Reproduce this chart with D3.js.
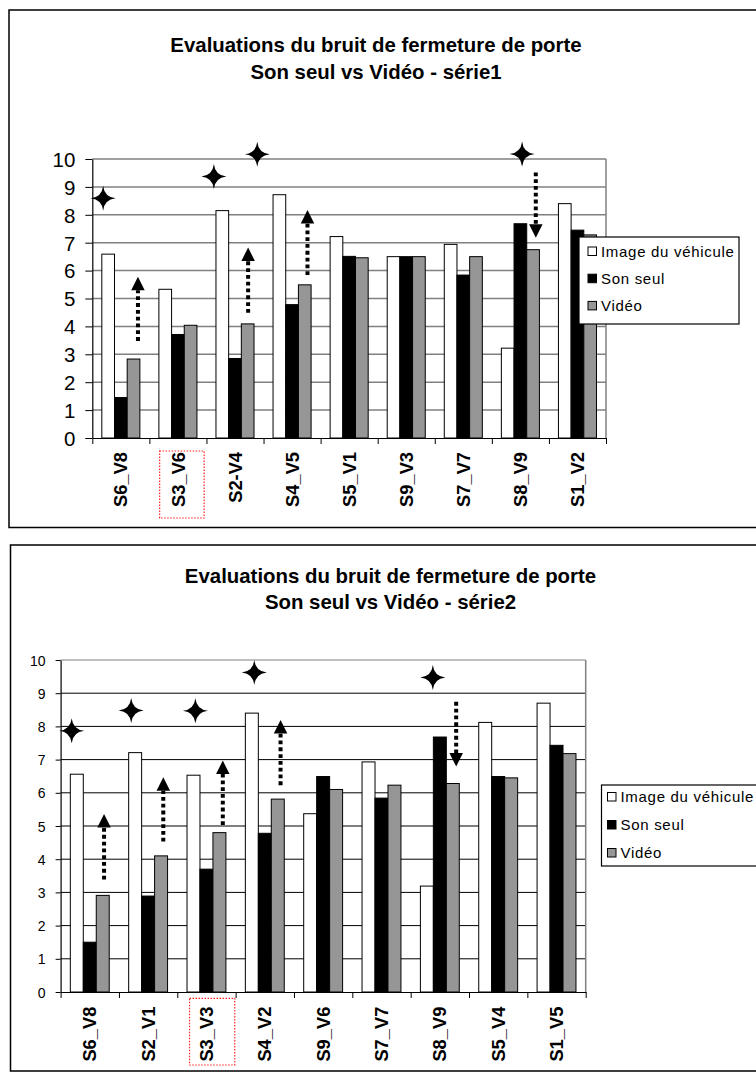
<!DOCTYPE html>
<html><head><meta charset="utf-8">
<script src="https://cdn.jsdelivr.net/npm/d3@7"></script>
<style>
html,body{margin:0;padding:0;background:#fff;}
svg{display:block;font-family:"Liberation Sans",Arial,Helvetica,sans-serif;}
</style></head>
<body>
<svg id="c" width="756" height="1075"></svg>
<script>
// ---------- DATA ----------
const seriesNames = ["Image du véhicule", "Son seul", "Vidéo"];
const yTicks = [0,1,2,3,4,5,6,7,8,9,10];

const titles1 = ["Evaluations du bruit de fermeture de porte", "Son seul vs Vidéo - série1"];
const categories1 = ["S6_V8","S3_V6","S2-V4","S4_V5","S5_V1","S9_V3","S7_V7","S8_V9","S1_V2"];
const image1 = [6.59,5.33,8.15,8.72,7.22,6.50,6.94,3.22,8.40];
const son1   = [1.45,3.71,2.85,4.78,6.51,6.50,5.84,7.68,7.45];
const video1 = [2.83,4.04,4.09,5.49,6.46,6.50,6.50,6.75,7.28];
const starCat1 = [0.19,2.13,2.89,7.53];
const starVal1 = [8.59,9.37,10.17,10.18];
const arrowCat1 = [0.80,2.73,3.77,7.77];
const arrowFrom1 = [3.48,4.49,5.84,9.52];
const arrowTo1 = [5.78,6.83,8.17,7.18];
const highlight1 = 1;

const titles2 = ["Evaluations du bruit de fermeture de porte", "Son seul vs Vidéo - série2"];
const categories2 = ["S6_V8","S2_V1","S3_V3","S4_V2","S9_V6","S7_V7","S8_V9","S5_V4","S1_V5"];
const image2 = [6.56,7.21,6.53,8.40,5.37,6.93,3.19,8.12,8.70];
const son2   = [1.50,2.89,3.70,4.78,6.49,5.84,7.68,6.49,7.43];
const video2 = [2.91,4.10,4.80,5.81,6.10,6.23,6.28,6.45,7.18];
const starCat2 = [0.19,1.21,2.31,3.32,6.38];
const starVal2 = [7.87,8.48,8.47,9.62,9.47];
const arrowCat2 = [0.745,1.76,2.78,3.77,6.78];
const arrowFrom2 = [3.39,4.53,5.03,6.23,8.74];
const arrowTo2 = [5.36,6.47,6.97,8.19,6.79];
const highlight2 = 2;

// ---------- STYLE / LAYOUT ----------
const fills = ["#ffffff", "#000000", "#969696"];
const svg = d3.select("#c");

function starPath(R, c) {
  const p = d3.path();
  p.moveTo(0, -R);
  p.quadraticCurveTo(c, -c, R, 0);
  p.quadraticCurveTo(c, c, 0, R);
  p.quadraticCurveTo(-c, c, -R, 0);
  p.quadraticCurveTo(-c, -c, 0, -R);
  p.closePath();
  return p.toString();
}

function drawChart(cfg) {
  const g = svg.append("g");
  g.append("rect").attr("x", cfg.border[0]).attr("y", cfg.border[1])
    .attr("width", cfg.border[2]).attr("height", cfg.border[3])
    .attr("fill", "none").attr("stroke", "#000").attr("stroke-width", 1.5);

  cfg.titles.forEach((t, i) => {
    g.append("text").attr("x", cfg.titleX).attr("y", cfg.titleY[i])
      .attr("text-anchor", "middle").attr("font-weight", "bold")
      .attr("font-size", cfg.titleSize).text(t);
  });

  const P = cfg.plot;
  const y = d3.scaleLinear().domain([0, 10]).range([P.b, P.t]);
  const x = d3.scaleBand().domain(cfg.categories).range([P.l, P.r]).paddingInner(0).paddingOuter(0);
  const xs = d3.scaleBand().domain(seriesNames).range([0, x.bandwidth()]).paddingInner(0).paddingOuter(0.75);
  const xi = d3.scaleLinear().domain([0, cfg.categories.length]).range([P.l, P.r]);

  g.append("g").selectAll("line").data(yTicks.filter(v => v > 0)).join("line")
    .attr("x1", P.l).attr("x2", P.r)
    .attr("y1", d => y(d)).attr("y2", d => y(d))
    .attr("stroke", d => d === 10 ? "#808080" : cfg.gridColor)
    .attr("stroke-width", cfg.gridWidth);
  g.append("line").attr("x1", P.r).attr("x2", P.r).attr("y1", y(10)).attr("y2", y(0))
    .attr("stroke", "#808080").attr("stroke-width", 1.5);

  const rows = cfg.categories.map((c, i) => ({ c, v: [cfg.image[i], cfg.son[i], cfg.video[i]] }));
  const grp = g.append("g").selectAll("g").data(rows).join("g")
    .attr("transform", d => `translate(${x(d.c)},0)`);
  grp.selectAll("rect").data(d => d.v.map((v, k) => ({ s: seriesNames[k], v, k }))).join("rect")
    .attr("x", d => xs(d.s)).attr("width", xs.bandwidth())
    .attr("y", d => y(d.v)).attr("height", d => y(0) - y(d.v))
    .attr("fill", d => fills[d.k]).attr("stroke", "#000").attr("stroke-width", 1);

  const ya = g.append("g").attr("transform", `translate(${P.l},0)`)
    .call(d3.axisLeft(y).tickValues(yTicks).tickSize(cfg.yTickLen).tickPadding(cfg.yPad).tickSizeOuter(0));
  ya.select(".domain").attr("stroke", "#000").attr("stroke-width", 1.2);
  ya.selectAll(".tick line").attr("stroke", "#000");
  ya.selectAll(".tick text").attr("font-size", cfg.yFont).attr("fill", "#000")
    .attr("font-family", '"Liberation Sans",Arial,sans-serif').attr("dy", "0.36em");

  const xa = g.append("g").attr("transform", `translate(0,${P.b})`)
    .call(d3.axisBottom(xi).tickValues(d3.range(cfg.categories.length + 1)).tickFormat("").tickSize(6).tickSizeOuter(0));
  xa.select(".domain").attr("stroke", "#000").attr("stroke-width", 1.2);
  xa.selectAll(".tick line").attr("stroke", "#000");

  g.append("g").selectAll("text").data(cfg.categories).join("text")
    .attr("transform", d => `translate(${x(d) + x.bandwidth() / 2},${P.b + cfg.xLabelOff}) rotate(-90)`)
    .attr("text-anchor", "end").attr("dy", "0.36em")
    .attr("font-weight", "bold").attr("font-size", cfg.xFont).text(d => d);

  const hc = cfg.highlight;
  g.append("rect")
    .attr("x", xi(hc + cfg.hlFrac[0])).attr("width", xi(hc + cfg.hlFrac[1]) - xi(hc + cfg.hlFrac[0]))
    .attr("y", P.b + cfg.hlY[0]).attr("height", cfg.hlY[1] - cfg.hlY[0])
    .attr("fill", "none").attr("stroke", "#ff2020").attr("stroke-width", 1.2)
    .attr("stroke-dasharray", "1.5,1.5");

  g.append("g").selectAll("path").data(cfg.starCat.map((c, i) => ({ c, v: cfg.starVal[i] }))).join("path")
    .attr("d", starPath(12.5, 1.2))
    .attr("transform", d => `translate(${xi(d.c)},${y(d.v)})`)
    .attr("fill", "#000");

  const arr = cfg.arrowCat.map((c, i) => ({ c, f: cfg.arrowFrom[i], t: cfg.arrowTo[i] }));
  const ah = 13.5, aw = 13.5;
  const ag = g.append("g").selectAll("g").data(arr).join("g");
  ag.append("line")
    .attr("x1", d => xi(d.c)).attr("x2", d => xi(d.c))
    .attr("y1", d => y(d.f))
    .attr("y2", d => y(d.t) + (d.t > d.f ? ah : -ah))
    .attr("stroke", "#000").attr("stroke-width", 4).attr("stroke-dasharray", "3.8,3");
  ag.append("path").attr("d", d => {
    const cx = xi(d.c), ty = y(d.t), dir = d.t > d.f ? 1 : -1;
    return `M${cx},${ty}L${cx - aw / 2},${ty + dir * ah}L${cx + aw / 2},${ty + dir * ah}Z`;
  }).attr("fill", "#000");

  const L = cfg.legend;
  const lg = g.append("g");
  lg.append("rect").attr("x", L.x).attr("y", L.y).attr("width", L.w).attr("height", L.h)
    .attr("fill", "#fff").attr("stroke", "#000").attr("stroke-width", 1.2);
  seriesNames.forEach((s, k) => {
    const by = L.y + L.first + k * L.step;
    lg.append("rect").attr("x", L.x + L.sw).attr("y", by - 9.5).attr("width", 8.5).attr("height", 8.5)
      .attr("fill", fills[k]).attr("stroke", "#000").attr("stroke-width", 1);
    lg.append("text").attr("x", L.x + L.tx).attr("y", by).attr("font-size", L.font)
      .attr("letter-spacing", L.ls).text(s);
  });
}

drawChart({
  border: [9, 10, 760, 517.5],
  titles: titles1, titleX: 376, titleY: [51.6, 78.5], titleSize: 20.4,
  plot: { l: 92.3, r: 606, t: 159, b: 438 },
  categories: categories1, image: image1, son: son1, video: video1,
  gridColor: "#808080", gridWidth: 1.5,
  yTickLen: 7, yPad: 10, yFont: 20.5,
  xFont: 18.3, xLabelOff: 14,
  highlight: highlight1, hlFrac: [0.18, 0.96], hlY: [13, 80],
  starCat: starCat1, starVal: starVal1,
  arrowCat: arrowCat1, arrowFrom: arrowFrom1, arrowTo: arrowTo1,
  legend: { x: 579, y: 237, w: 160, h: 87, first: 19.5, step: 27.2, sw: 9, tx: 22, font: 15, ls: 0.7 }
});

drawChart({
  border: [10.5, 545, 760, 526],
  titles: titles2, titleX: 390.5, titleY: [582.7, 609.3], titleSize: 20.4,
  plot: { l: 60.6, r: 585.7, t: 660, b: 992 },
  categories: categories2, image: image2, son: son2, video: video2,
  gridColor: "#000", gridWidth: 1,
  yTickLen: 5, yPad: 10, yFont: 14,
  xFont: 18.3, xLabelOff: 14.7,
  highlight: highlight2, hlFrac: [0.21, 0.985], hlY: [6.3, 73],
  starCat: starCat2, starVal: starVal2,
  arrowCat: arrowCat2, arrowFrom: arrowFrom2, arrowTo: arrowTo2,
  legend: { x: 601.5, y: 785, w: 170, h: 81, first: 17, step: 28, sw: 6, tx: 19, font: 15, ls: 0.7 }
});
</script>
</body></html>
